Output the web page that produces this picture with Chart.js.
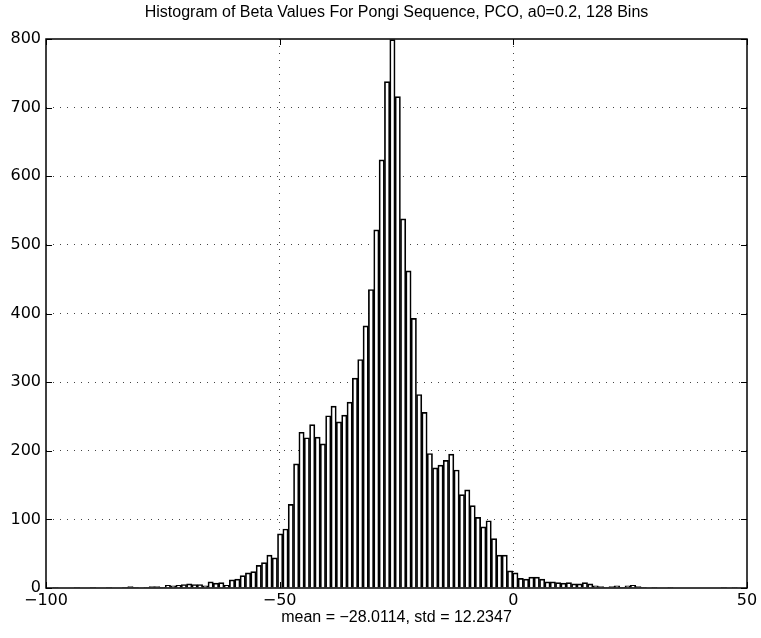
<!DOCTYPE html>
<html>
<head>
<meta charset="utf-8">
<script src="https://cdn.jsdelivr.net/npm/chart.js@4"></script>
<style>
  html, body { margin: 0; padding: 0; background: #fff; }
  canvas { display: block; }
</style>
</head>
<body>
<canvas id="hist" width="761" height="638"></canvas>
<script>
// histogram range (128 bins between data min and max)
const binLo = -98.52;
const binHi = 47.92;
const nBins = 128;

// counts per bin, left to right
const counts = [
  1, 0, 0, 0, 1, 0, 0, 1, 0, 0,
  1, 0, 0, 1, 2, 1, 0, 1, 2, 2,
  1, 4, 3, 4, 5, 6, 5, 5, 3, 9,
  7, 8, 4, 12, 13, 18, 22, 24, 33, 37,
  48, 44, 79, 86, 122, 181, 227, 219, 238, 220,
  210, 251, 265, 242, 252, 271, 306, 333, 382, 435,
  522, 624, 738, 799, 716, 538, 462, 393, 282, 256,
  196, 175, 179, 186, 195, 172, 136, 143, 120, 103,
  89, 98, 72, 48, 48, 25, 22, 14, 13, 16,
  16, 13, 9, 9, 8, 7, 8, 6, 6, 8,
  6, 3, 2, 1, 2, 3, 1, 3, 4, 2,
  1, 0, 1, 0, 0, 1, 0, 0, 0, 0,
  0, 0, 0, 0, 0, 1, 0, 1
];

const xTicks = [-100, -50, 0, 50];
const yTicks = [0, 100, 200, 300, 400, 500, 600, 700, 800];

const titleText = "Histogram of Beta Values For Pongi Sequence, PCO, a0=0.2, 128 Bins";
const xLabelText = "mean = \u221228.0114, std = 12.2347";

// bin centres like matlab hist()
const binW = (binHi - binLo) / nBins;
const points = counts.map((c, i) => ({ x: binLo + (i + 0.5) * binW, y: c }));

const fmt = (v) => String(v).replace("-", "\u2212");
const textFont = "'Liberation Sans', Arial, sans-serif";

Chart.defaults.font.family = "'DejaVu Sans', sans-serif";
Chart.defaults.font.size = 16;
Chart.defaults.color = "#000";

// box around the axes plus inward tick marks, matlab style
const framePlugin = {
  id: "frame",
  afterDatasetsDraw(chart) {
    const { ctx, chartArea: a, scales } = chart;
    const tl = 6;
    ctx.save();
    ctx.strokeStyle = "#000";
    ctx.lineWidth = 1;
    ctx.beginPath();
    xTicks.forEach((v) => {
      const px = Math.round(scales.x.getPixelForValue(v)) + 0.5;
      ctx.moveTo(px, a.bottom); ctx.lineTo(px, a.bottom - tl);
      ctx.moveTo(px, a.top); ctx.lineTo(px, a.top + tl);
    });
    yTicks.forEach((v) => {
      const py = Math.round(scales.y.getPixelForValue(v)) + 0.5;
      ctx.moveTo(a.left, py); ctx.lineTo(a.left + tl, py);
      ctx.moveTo(a.right, py); ctx.lineTo(a.right - tl, py);
    });
    ctx.stroke();
    ctx.lineWidth = 1.5;
    ctx.strokeRect(a.left, a.top, a.right - a.left, a.bottom - a.top);
    ctx.restore();
  }
};

const gridColor = (edge) => (c) =>
  (c.tick && edge.includes(c.tick.value)) ? "rgba(0,0,0,0)" : "#444";

new Chart(document.getElementById("hist"), {
  type: "bar",
  data: {
    datasets: [{
      data: points,
      xAxisID: "x",
      backgroundColor: "#fff",
      borderColor: "#000",
      borderWidth: 1.7,
      categoryPercentage: 1,
      barPercentage: 1
    }]
  },
  options: {
    responsive: false,
    animation: false,
    layout: { padding: { left: 0, right: 14, top: 0, bottom: 0 } },
    plugins: {
      legend: { display: false },
      tooltip: { enabled: false }
    },
    scales: {
      // top axis only carries the title so it centres over the plot box
      top: {
        type: "linear",
        axis: "x",
        position: "top",
        min: -100,
        max: 50,
        afterFit: (s) => { s.height = 39; },
        ticks: { display: false },
        grid: { display: false, drawTicks: false },
        border: { display: false },
        title: {
          display: true,
          text: titleText,
          font: { family: textFont, size: 16 },
          padding: { top: 3, bottom: 0 }
        }
      },
      x: {
        type: "linear",
        position: "bottom",
        min: -100,
        max: 50,
        offset: false,
        afterBuildTicks: (s) => { s.ticks = xTicks.map((v) => ({ value: v })); },
        afterFit: (s) => { s.height = 50; },
        ticks: { padding: 3, maxRotation: 0, callback: (v) => fmt(v) },
        grid: { offset: false, drawTicks: false, color: gridColor([-100, 50]) },
        border: { display: false, dash: [1, 6] },
        title: {
          display: true,
          text: xLabelText,
          font: { family: textFont, size: 16 },
          padding: { top: 0, bottom: 11 }
        }
      },
      y: {
        min: 0,
        max: 800,
        afterBuildTicks: (s) => { s.ticks = yTicks.map((v) => ({ value: v })); },
        afterFit: (s) => { s.width = 46; },
        ticks: { padding: 5 },
        grid: { drawTicks: false, color: gridColor([0, 800]) },
        border: { display: false, dash: [1, 6] }
      }
    }
  },
  plugins: [framePlugin]
});
</script>
</body>
</html>
